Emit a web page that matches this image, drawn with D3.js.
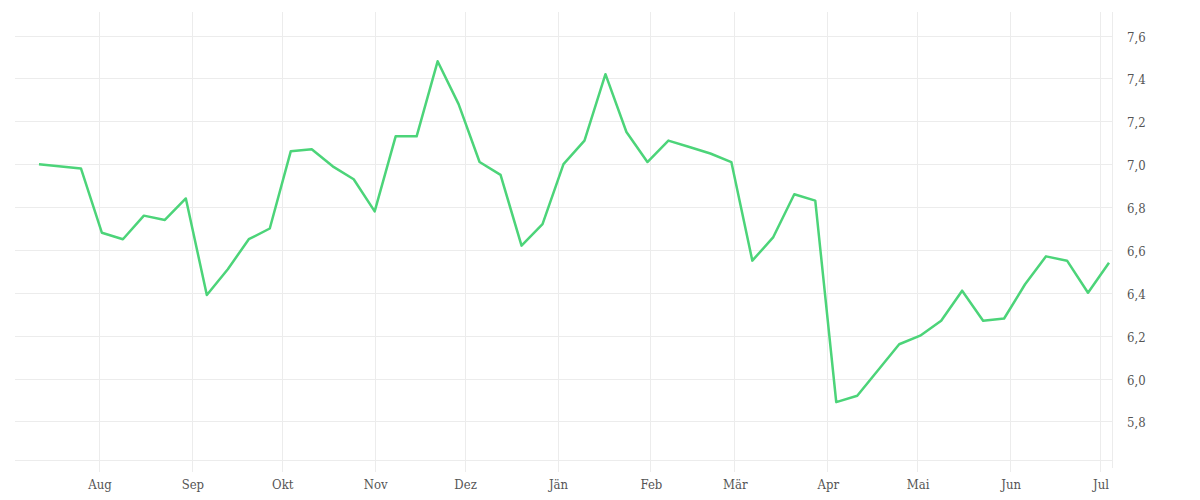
<!DOCTYPE html>
<html>
<head>
<meta charset="utf-8">
<script src="https://cdn.jsdelivr.net/npm/d3@7"></script>
<style>
  html, body { margin: 0; padding: 0; background: #fff; }
  svg { display: block; }
  .lbl { font-family: "DejaVu Serif Condensed", "DejaVu Serif", serif; font-size: 13px; fill: #555; }
</style>
</head>
<body>
<svg id="chart" width="1200" height="500"></svg>
<script>
// ---- data ----
const dates = [
  "2022-07-12","2022-07-26","2022-08-02","2022-08-09","2022-08-16","2022-08-23","2022-08-30",
  "2022-09-06","2022-09-13","2022-09-20","2022-09-27","2022-10-04","2022-10-11","2022-10-18",
  "2022-10-25","2022-11-01","2022-11-08","2022-11-15","2022-11-22","2022-11-29","2022-12-06",
  "2022-12-13","2022-12-20","2022-12-27","2023-01-03","2023-01-10","2023-01-17","2023-01-24",
  "2023-01-31","2023-02-07","2023-02-14","2023-02-21","2023-02-28","2023-03-07","2023-03-14",
  "2023-03-21","2023-03-28","2023-04-04","2023-04-11","2023-04-18","2023-04-25","2023-05-02",
  "2023-05-09","2023-05-16","2023-05-23","2023-05-30","2023-06-06","2023-06-13","2023-06-20",
  "2023-06-27","2023-07-04"
];
const values = [
  7.00, 6.98, 6.68, 6.65, 6.76, 6.74, 6.84,
  6.39, 6.51, 6.65, 6.70, 7.06, 7.07, 6.99,
  6.93, 6.78, 7.13, 7.13, 7.48, 7.28, 7.01,
  6.95, 6.62, 6.72, 7.00, 7.11, 7.42, 7.15,
  7.01, 7.11, 7.08, 7.05, 7.01, 6.55, 6.66,
  6.86, 6.83, 5.89, 5.92, 6.04, 6.16, 6.20,
  6.27, 6.41, 6.27, 6.28, 6.44, 6.57, 6.55,
  6.40, 6.54
];
const monthTicks = ["2022-08-01","2022-09-01","2022-10-01","2022-11-01","2022-12-01","2023-01-01",
  "2023-02-01","2023-03-01","2023-04-01","2023-05-01","2023-06-01","2023-07-01"];
const monthLabels = ["Aug","Sep","Okt","Nov","Dez","Jän","Feb","Mär","Apr","Mai","Jun","Jul"];
const yTicks = [5.8, 6.0, 6.2, 6.4, 6.6, 6.8, 7.0, 7.2, 7.4, 7.6];
const xDomain = ["2022-07-04","2023-07-05"];
const yDomain = [5.62, 7.71];

// ---- chart ----
const parse = d3.utcParse("%Y-%m-%d");
const data = dates.map((d, i) => ({ date: parse(d), value: values[i] }));
const plotL = 15, plotR = 1112, plotT = 12, plotB = 460;

const x = d3.scaleUtc().domain(xDomain.map(parse)).range([plotL, plotR]);
const y = d3.scaleLinear().domain(yDomain).range([plotB, plotT]);

const locale = d3.formatLocale({ decimal: ",", thousands: ".", grouping: [3], currency: ["", " €"] });
const fmt = locale.format(".1f");

const svg = d3.select("#chart");

// horizontal grid
svg.append("g")
  .selectAll("line").data(yTicks).join("line")
  .attr("x1", plotL).attr("x2", plotR)
  .attr("y1", d => Math.round(y(d)) + 0.5).attr("y2", d => Math.round(y(d)) + 0.5)
  .attr("stroke", "#ececec").attr("stroke-width", 1);

// bottom border
svg.append("line")
  .attr("x1", plotL).attr("x2", plotR).attr("y1", plotB + 0.5).attr("y2", plotB + 0.5)
  .attr("stroke", "#ececec");

// vertical grid (months)
const ticks = monthTicks.map(parse);
svg.append("g")
  .selectAll("line").data(ticks).join("line")
  .attr("x1", d => Math.round(x(d)) + 0.5).attr("x2", d => Math.round(x(d)) + 0.5)
  .attr("y1", plotT).attr("y2", plotB + 12)
  .attr("stroke", "#ececec");

// right border
svg.append("line")
  .attr("x1", plotR + 0.5).attr("x2", plotR + 0.5).attr("y1", plotT).attr("y2", plotB + 8)
  .attr("stroke", "#ececec");

// x labels
svg.append("g")
  .selectAll("text").data(ticks).join("text")
  .attr("class", "lbl")
  .attr("x", d => x(d) + 1).attr("y", 489)
  .attr("text-anchor", "middle")
  .text((d, i) => monthLabels[i]);

// y labels
svg.append("g")
  .selectAll("text").data(yTicks).join("text")
  .attr("class", "lbl")
  .attr("x", 1127).attr("y", d => y(d) + 6)
  .text(d => fmt(d));

// line
const line = d3.line().x(d => x(d.date)).y(d => y(d.value));
svg.append("path")
  .datum(data)
  .attr("d", line)
  .attr("fill", "none")
  .attr("stroke", "#4cd479")
  .attr("stroke-width", 2.5)
  .attr("stroke-linejoin", "round");
</script>
</body>
</html>
